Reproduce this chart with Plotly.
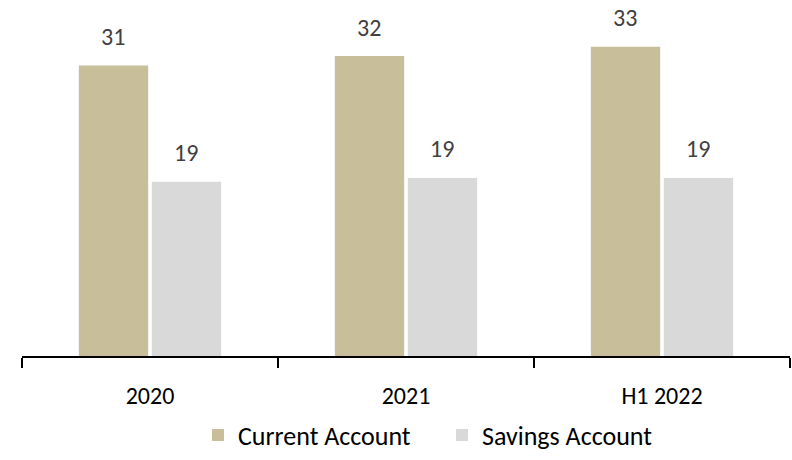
import plotly.graph_objects as go

categories = ["2020", "2021", "H1 2022"]
current_account = [31.0, 32.0, 33.0]
savings_account = [18.6, 19.0, 19.0]
series_names = ["Current Account", "Savings Account"]
colors = ["#C8BF9A", "#D9D9D9"]

FONT = "Calibri, Carlito, Lato, sans-serif"

fig = go.Figure()
for name, vals, col, lg in zip(series_names, [current_account, savings_account], colors,
                               ["legend", "legend2"]):
    fig.add_trace(go.Bar(
        x=categories, y=vals, name=name, legend=lg,
        marker=dict(color=col, line=dict(width=0)),
        hoverinfo="skip",
    ))

# value labels above bars (category index positions on the category axis)
shifts = [-37, 36]
for vals, xs in zip([current_account, savings_account], shifts):
    for i, v in enumerate(vals):
        fig.add_annotation(
            x=i, y=v, text=f"{v:.0f}", showarrow=False,
            xshift=xs, yshift=29, yanchor="middle",
            font=dict(family=FONT, size=24, color="#404040"),
        )

legend_common = dict(
    orientation="h", xanchor="left", yanchor="middle", y=-0.241,
    font=dict(family=FONT, size=26, color="#000000"),
    bgcolor="rgba(0,0,0,0)", borderwidth=0,
)

fig.update_layout(
    width=792, height=460,
    margin=dict(l=22, r=2, t=28, b=96),
    paper_bgcolor="white", plot_bgcolor="white",
    barmode="group", bargap=0.43, bargroupgap=0.05,
    font=dict(family=FONT, size=24, color="#000000"),
    showlegend=True,
    legend=dict(x=(198 - 22) / 768, **legend_common),
    legend2=dict(x=(442 - 22) / 768, **legend_common),
    xaxis=dict(
        type="category", range=[-0.5, 2.5],
        showline=True, linecolor="#000000", linewidth=1.5,
        ticks="outside", tickson="boundaries", ticklen=10, tickwidth=1.5,
        tickcolor="#000000", showgrid=False, ticklabelstandoff=17,
        tickfont=dict(family=FONT, size=24, color="#000000"),
    ),
    yaxis=dict(visible=False, range=[0, 35], showgrid=False, zeroline=False),
)

fig.write_html("out.html", config={"displayModeBar": False},
               post_script="document.body.style.margin='0';")
